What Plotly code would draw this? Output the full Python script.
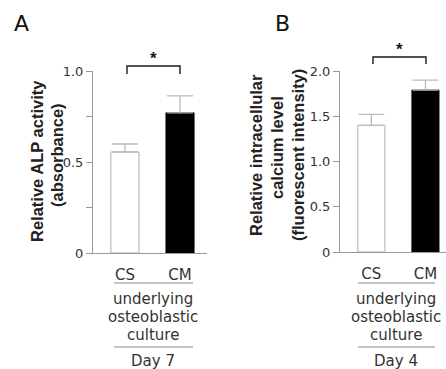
import plotly.graph_objects as go

W, H = 446, 369

categories = ["CS", "CM"]
alp_values = [0.555, 0.77]
alp_errors = [0.044, 0.093]
calcium_values = [1.40, 1.79]
calcium_errors = [0.12, 0.11]
alp_ticks = [0, 0.5, 1.0]
alp_ticktext = ["0", "0.5", "1.0"]
ca_ticks = [0, 0.5, 1.0, 1.5, 2.0]
ca_ticktext = ["0", "0.5", "1.0", "1.5", "2.0"]
bar_fill = ["white", "black"]
bar_line = ["#b0b0b0", "black"]

FONT = "DejaVu Sans, sans-serif"
BFONT = "Liberation Sans, Arial, sans-serif"
AXC = "#999999"
TXT = "#333333"

def px(x):
    return x / W

def py(y):
    return 1 - y / H

fig = go.Figure()

fig.add_trace(go.Bar(
    x=[0, 1], y=alp_values, width=0.51,
    marker=dict(color=bar_fill, line=dict(color=bar_line, width=1)),
    error_y=dict(type="data", symmetric=False, array=alp_errors,
                 arrayminus=[0, 0], color="#bbbbbb", thickness=1.3, width=13),
    xaxis="x", yaxis="y", showlegend=False))

fig.add_trace(go.Bar(
    x=[0, 1], y=calcium_values, width=0.5,
    marker=dict(color=bar_fill, line=dict(color=bar_line, width=1)),
    error_y=dict(type="data", symmetric=False, array=calcium_errors,
                 arrayminus=[0, 0], color="#bbbbbb", thickness=1.3, width=13),
    xaxis="x2", yaxis="y2", showlegend=False))

xcommon = dict(showgrid=False, zeroline=False, showline=True, linecolor=AXC,
               linewidth=1, ticks="", tickmode="array", tickvals=[0, 1],
               ticktext=categories, tickfont=dict(family=FONT, size=15, color=TXT),
               ticklabelstandoff=8, fixedrange=True, automargin=False)
ycommon = dict(showgrid=False, zeroline=False, showline=True, linecolor=AXC,
               linewidth=1, ticks="outside", ticklen=6, tickcolor=AXC,
               tickfont=dict(family=FONT, size=13, color=TXT), tickmode="array",
               fixedrange=True, automargin=False)

fig.update_layout(
    width=W, height=H,
    margin=dict(l=0, r=0, t=0, b=0, autoexpand=False),
    paper_bgcolor="white", plot_bgcolor="white",
    xaxis=dict(domain=[px(93), px(207)], range=[-0.58, 1.49], anchor="y", **xcommon),
    yaxis=dict(domain=[py(253), py(71)], range=[0, 1.0], anchor="x",
               tickvals=alp_ticks, ticktext=alp_ticktext,
               minor=dict(tickvals=[0.25, 0.75], ticks="outside", ticklen=6, tickcolor=AXC),
               **ycommon),
    xaxis2=dict(domain=[px(340), 1.0], range=[-0.58, 1.38], anchor="y2", **xcommon),
    yaxis2=dict(domain=[py(252), py(71)], range=[0, 2.0], anchor="x2",
                tickvals=ca_ticks, ticktext=ca_ticktext, **ycommon),
)

shapes = []
def bracket(x0, x1, y, leg):
    shapes.append(dict(type="path", xref="paper", yref="paper",
                       path=f"M {px(x0)} {py(y+leg)} L {px(x0)} {py(y)} L {px(x1)} {py(y)} L {px(x1)} {py(y+leg)}",
                       line=dict(color="#1a1a1a", width=1.4)))
bracket(127, 180, 66, 8)
bracket(373, 426, 57, 7)

def hline(x0, x1, y):
    shapes.append(dict(type="line", xref="paper", yref="paper",
                       x0=px(x0), x1=px(x1), y0=py(y), y1=py(y),
                       line=dict(color="#888888", width=1)))
hline(114, 193, 283)
hline(114, 193, 347)
hline(358, 435, 283)
hline(358, 435, 347)

fig.update_layout(shapes=shapes)

ann = []
def text(t, x, y, size=15, color=TXT, angle=0, bold=False, family=FONT):
    ann.append(dict(text=(f"<b>{t}</b>" if bold else t), x=px(x), y=py(y),
                    xref="paper", yref="paper", showarrow=False,
                    xanchor="center", yanchor="middle", textangle=angle,
                    font=dict(family=family, size=size, color=color)))

text("A", 21, 23, size=22, color="#111111")
text("B", 282, 23, size=22, color="#111111")
text("*", 153, 59, size=17, color="#1a1a1a", bold=True, family=BFONT)
text("*", 399, 50, size=17, color="#1a1a1a", bold=True, family=BFONT)

TC = "#222222"
text("Relative ALP activity", 37, 161, size=16.5, color=TC, angle=-90, bold=True, family=BFONT)
text("(absorbance)", 57, 155, size=16.5, color=TC, angle=-90, bold=True, family=BFONT)
text("Relative intracellular", 256, 155, size=16.5, color=TC, angle=-90, bold=True, family=BFONT)
text("calcium level", 277, 148, size=16.5, color=TC, angle=-90, bold=True, family=BFONT)
text("(fluorescent intensity)", 298, 155, size=16.5, color=TC, angle=-90, bold=True, family=BFONT)

for cx, day in [(153, "Day 7"), (396, "Day 4")]:
    text("underlying", cx, 299)
    text("osteoblastic", cx, 317)
    text("culture", cx, 335)
    text(day, cx, 361)

fig.update_layout(annotations=ann)

fig.write_html("out.html", config={"displayModeBar": False},
               post_script="document.body.style.margin='0';document.body.style.overflow='hidden';")
